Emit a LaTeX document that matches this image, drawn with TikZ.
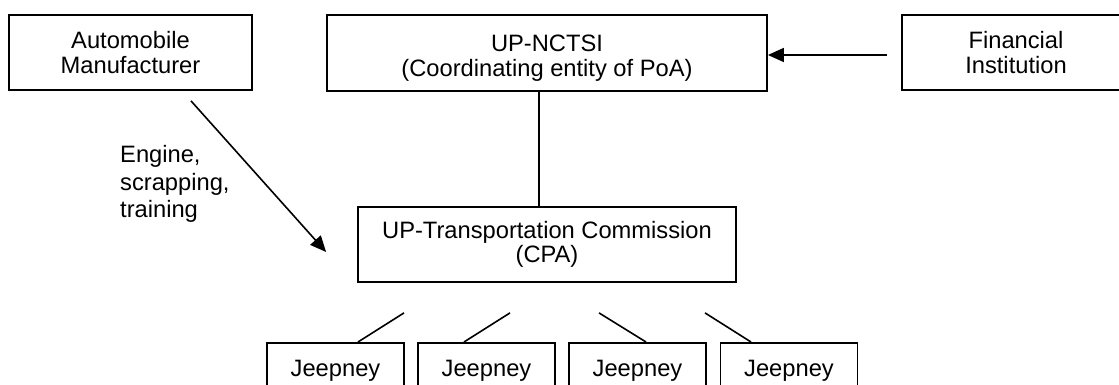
\documentclass[tikz,border=0pt]{standalone}
\usepackage{fontspec}
\setmainfont{Liberation Sans}
\usetikzlibrary{arrows.meta,calc}
\begin{document}
\begin{tikzpicture}[x=1pt,y=-1pt,
  box/.style={draw,line width=1.8pt,inner sep=0pt,align=center,
    font=\fontsize{23.7}{25.5}\selectfont},
  jbox/.style={draw,line width=1.8pt,anchor=north,minimum width=137pt,inner xsep=0pt,
    inner ysep=17pt,text height=17pt,text depth=25pt,font=\fontsize{23.7}{25.5}\selectfont},
  lbl/.style={align=left,inner sep=0pt,font=\fontsize{23.7}{27.5}\selectfont},
  conn/.style={line width=1.6pt},
  arr/.style={line width=1.6pt,-{Triangle[length=16pt,width=14pt]}}]
\useasboundingbox (0,0) rectangle (1119,385);
\clip (0,0) rectangle (1119,385);
% boxes
\node[box,minimum width=243pt,minimum height=75pt] (auto) at (130.5,52.5)
  {Automobile\\Manufacturer};
\node[box,minimum width=440pt,minimum height=76pt,
  label={[lbl,align=center,name=nctsiT,font=\fontsize{23.7}{24.5}\selectfont,yshift=-5pt]center:UP-NCTSI\\(Coordinating entity of PoA)}]
  (nctsi) at (547,53) {};
\node[box,minimum width=228pt,minimum height=75pt] (fin) at (1016,52.5)
  {Financial\\Institution};
\node[box,minimum width=378pt,minimum height=75pt,font=\fontsize{23.7}{24.5}\selectfont] (uptc) at (547,244.5)
  {UP-Transportation Commission\\(CPA)};
\node[jbox] (j1) at (335.5,342) {Jeepney};
\node[jbox] (j2) at (486.5,342) {Jeepney};
\node[jbox] (j3) at (637.5,342) {Jeepney};
\node[jbox] (j4) at (789,342) {Jeepney};
% label
\node[lbl,anchor=north west] (lab) at (120,145.5) {Engine,\\scrapping,\\training};
% connectors
\coordinate (fs) at ([shift={(-14,2.5)}]fin.west);
\draw[arr] (fs) -- (fs -| nctsi.east);
\draw[conn] ([xshift=-8pt]nctsi.south) -- ([xshift=-8pt]uptc.north);
\coordinate (as) at ([shift={(60.5,10)}]auto.south);
\coordinate (ae) at ([shift={(-31,7.5)}]uptc.west);
\draw[arr] (as) -- (ae);
\coordinate (s1) at ([shift={(-143,30)}]uptc.south);
\coordinate (s2) at ([shift={(-37,30)}]uptc.south);
\coordinate (s3) at ([shift={(52,30)}]uptc.south);
\coordinate (s4) at ([shift={(158,30)}]uptc.south);
\draw[conn] (s1) -- ([xshift=22.5pt]j1.north);
\draw[conn] (s2) -- ([xshift=-22.5pt]j2.north);
\draw[conn] (s3) -- ([xshift=8.5pt]j3.north);
\draw[conn] (s4) -- ([xshift=-38pt]j4.north);
\end{tikzpicture}
\end{document}
